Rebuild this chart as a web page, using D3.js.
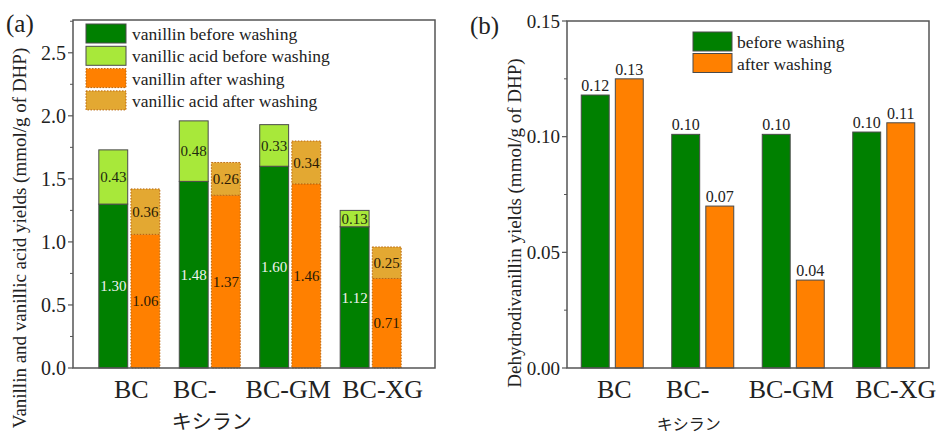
<!DOCTYPE html>
<html>
<head>
<meta charset="utf-8">
<script src="https://cdn.jsdelivr.net/npm/d3@7"></script>
<style>
  body { margin: 0; background: #fff; }
  text { font-family: "Liberation Serif", "Times New Roman", serif; fill: #222; }
</style>
</head>
<body>
<div id="chart"></div>
<script>
// data
const categories = ["BC", "BC-キシラン", "BC-GM", "BC-XG"];
const vanillinBefore = [1.30, 1.48, 1.60, 1.12];
const vanillicBefore = [0.43, 0.48, 0.33, 0.13];
const vanillinAfter = [1.06, 1.37, 1.46, 0.71];
const vanillicAfter = [0.36, 0.26, 0.34, 0.25];
const dhvBefore = [0.118, 0.101, 0.101, 0.102];
const dhvAfter = [0.125, 0.070, 0.038, 0.106];
const ticksA = [0, 0.5, 1.0, 1.5, 2.0, 2.5];
const ticksB = [0, 0.05, 0.10, 0.15];
const legendA = ["vanillin before washing", "vanillic acid before washing", "vanillin after washing", "vanillic acid after washing"];
const legendB = ["before washing", "after washing"];

const width = 938, height = 434;
const C = {
  green: "#008000",
  light: "#a8e83a",
  orange: "#ff8000",
  ochre: "#e3a832",
  edge: "#4a4a4a",
  dotted: "#b8650c",
  axis: "#555"
};

const svg = d3.select("#chart").append("svg")
    .attr("width", width)
    .attr("height", height);

// small nudges for the category labels (the original ones are not centred)
const labelShift = [2, -15, -2, 12];

function frame(g, y, w, h, ticks, minorStep, fmt, size) {
  g.append("rect")
      .attr("width", w).attr("height", h)
      .attr("fill", "none")
      .attr("stroke", C.axis)
      .attr("stroke-width", 1.5);

  const [lo, hi] = y.domain();
  const minors = d3.range(lo, hi + 1e-9, minorStep)
      .filter(function(v) { return !ticks.some(function(t) { return Math.abs(t - v) < 1e-9; }); });

  g.selectAll(".minor")
    .data(minors)
    .enter().append("line")
      .attr("x1", -3).attr("x2", 0)
      .attr("y1", y).attr("y2", y)
      .attr("stroke", C.axis);

  const major = g.selectAll(".major")
    .data(ticks)
    .enter().append("g")
      .attr("transform", function(d) { return "translate(0," + y(d) + ")"; });

  major.append("line")
      .attr("x1", -5).attr("x2", 0)
      .attr("stroke", C.axis)
      .attr("stroke-width", 1.2);

  major.append("text")
      .attr("x", -7)
      .attr("dy", "0.35em")
      .attr("text-anchor", "end")
      .style("font-size", size + "px")
      .text(fmt);
}

function categoryLabels(g, x, h, kanaSize, kanaShift, kanaY) {
  const lab = g.selectAll(".cat")
    .data(categories)
    .enter().append("g")
      .attr("transform", function(d) { return "translate(" + (x(d) + x.bandwidth() / 2) + "," + h + ")"; });

  lab.append("text")
      .attr("x", function(d, i) { return labelShift[i]; })
      .attr("y", 30)
      .attr("text-anchor", "middle")
      .style("font-size", "26px")
      .text(function(d) { return d.replace("キシラン", ""); });

  lab.filter(function(d) { return d.indexOf("キシラン") >= 0; })
    .append("text")
      .attr("x", kanaShift)
      .attr("y", kanaY)
      .attr("text-anchor", "middle")
      .style("font-size", kanaSize + "px")
      .style("font-family", '"Noto Sans CJK JP", sans-serif')
      .text("キシラン");
}

// ---------- panel (a) ----------
const A = { left: 73, top: 20, w: 362, h: 348 };
const ga = svg.append("g").attr("transform", "translate(" + A.left + "," + A.top + ")");

const xa = d3.scaleBand().domain(categories).range([0, A.w - 8]).paddingOuter(0.2).paddingInner(0);
const sa = d3.scaleBand().domain(["before", "after"]).range([-30.5, 30.5]).paddingInner(0.1);
const ya = d3.scaleLinear().domain([0, 2.76]).range([A.h, 0]);

const stacksA = categories.map(function(c, i) {
  const mid = xa(c) + xa.bandwidth() / 2;
  return [
    { x: mid + sa("before"), y0: 0, y1: vanillinBefore[i], v: vanillinBefore[i], fill: C.green, after: false, txt: "#f2f2f2" },
    { x: mid + sa("before"), y0: vanillinBefore[i], y1: vanillinBefore[i] + vanillicBefore[i], v: vanillicBefore[i], fill: C.light, after: false, txt: "#1e2a10" },
    { x: mid + sa("after"), y0: 0, y1: vanillinAfter[i], v: vanillinAfter[i], fill: C.orange, after: true, txt: "#2a1a05" },
    { x: mid + sa("after"), y0: vanillinAfter[i], y1: vanillinAfter[i] + vanillicAfter[i], v: vanillicAfter[i], fill: C.ochre, after: true, txt: "#2a1a05" }
  ];
}).flat();

ga.selectAll(".seg")
  .data(stacksA)
  .enter().append("rect")
    .attr("x", function(d) { return d.x; })
    .attr("y", function(d) { return ya(d.y1); })
    .attr("width", sa.bandwidth())
    .attr("height", function(d) { return ya(d.y0) - ya(d.y1); })
    .attr("fill", function(d) { return d.fill; })
    .attr("stroke", function(d) { return d.after ? C.dotted : C.edge; })
    .attr("stroke-width", 1)
    .attr("stroke-dasharray", function(d) { return d.after ? "1.5,1.5" : null; });

ga.selectAll(".seglab")
  .data(stacksA)
  .enter().append("text")
    .attr("x", function(d) { return d.x + sa.bandwidth() / 2; })
    .attr("y", function(d) { return (ya(d.y0) + ya(d.y1)) / 2; })
    .attr("dy", "0.35em")
    .attr("text-anchor", "middle")
    .style("font-size", "15px")
    .style("fill", function(d) { return d.txt; })
    .text(function(d) { return d3.format(".2f")(d.v); });

frame(ga, ya, A.w, A.h, ticksA, 0.25, d3.format(".1f"), 20);
categoryLabels(ga, xa, A.h, 20, 2, 61);

// legend (a)
const legA = ga.append("g").attr("transform", "translate(13,4)");
const legAItems = legA.selectAll("g")
  .data(legendA)
  .enter().append("g")
    .attr("transform", function(d, i) { return "translate(0," + (i * 22.3) + ")"; });

legAItems.append("rect")
    .attr("width", 40).attr("height", 19)
    .attr("fill", function(d, i) { return [C.green, C.light, C.orange, C.ochre][i]; })
    .attr("stroke", function(d, i) { return i < 2 ? C.edge : C.dotted; })
    .attr("stroke-dasharray", function(d, i) { return i < 2 ? null : "1.5,1.5"; });

legAItems.append("text")
    .attr("x", 46).attr("y", 10)
    .attr("dy", "0.35em")
    .style("font-size", "17.5px")
    .text(function(d) { return d; });

// ---------- panel (b) ----------
const B = { left: 567, top: 21, w: 362, h: 347 };
const gb = svg.append("g").attr("transform", "translate(" + B.left + "," + B.top + ")");

const xb = d3.scaleBand().domain(categories).range([0, B.w]).paddingOuter(0).paddingInner(0);
const sb = d3.scaleBand().domain(["before", "after"]).range([-31, 31]).paddingInner(0.18);
const yb = d3.scaleLinear().domain([0, 0.15]).range([B.h, 0]);

const barsB = categories.map(function(c, i) {
  const mid = xb(c) + xb.bandwidth() / 2;
  return [
    { x: mid + sb("before"), v: dhvBefore[i], fill: C.green },
    { x: mid + sb("after"), v: dhvAfter[i], fill: C.orange }
  ];
}).flat();

gb.selectAll(".bar")
  .data(barsB)
  .enter().append("rect")
    .attr("x", function(d) { return d.x; })
    .attr("y", function(d) { return yb(d.v); })
    .attr("width", sb.bandwidth())
    .attr("height", function(d) { return yb(0) - yb(d.v); })
    .attr("fill", function(d) { return d.fill; })
    .attr("stroke", C.edge)
    .attr("stroke-width", 1);

gb.selectAll(".barlab")
  .data(barsB)
  .enter().append("text")
    .attr("x", function(d) { return d.x + sb.bandwidth() / 2; })
    .attr("y", function(d) { return yb(d.v) - 4; })
    .attr("text-anchor", "middle")
    .style("font-size", "16px")
    .text(function(d) { return d3.format(".2f")(d.v); });

frame(gb, yb, B.w, B.h, ticksB, 0.025, d3.format(".2f"), 19);
categoryLabels(gb, xb, B.h, 16, -14, 62);

// legend (b)
const legB = gb.append("g").attr("transform", "translate(126,11)");
const legBItems = legB.selectAll("g")
  .data(legendB)
  .enter().append("g")
    .attr("transform", function(d, i) { return "translate(0," + (i * 21.5) + ")"; });

legBItems.append("rect")
    .attr("width", 39).attr("height", 19)
    .attr("fill", function(d, i) { return [C.green, C.orange][i]; })
    .attr("stroke", C.edge);

legBItems.append("text")
    .attr("x", 44).attr("y", 10)
    .attr("dy", "0.35em")
    .style("font-size", "17.5px")
    .text(function(d) { return d; });

// axis titles and panel letters
svg.append("text")
    .attr("transform", "translate(26,238) rotate(-90)")
    .attr("text-anchor", "middle")
    .style("font-size", "19px")
    .text("Vanillin and vanillic acid yields (mmol/g of DHP)");

svg.append("text")
    .attr("transform", "translate(521,223) rotate(-90)")
    .attr("text-anchor", "middle")
    .style("font-size", "19px")
    .text("Dehydrodivanillin yields (mmol/g of DHP)");

svg.append("text")
    .attr("x", 6).attr("y", 32)
    .style("font-size", "25px")
    .text("(a)");

svg.append("text")
    .attr("x", 470).attr("y", 34)
    .style("font-size", "25px")
    .text("(b)");
</script>
</body>
</html>
